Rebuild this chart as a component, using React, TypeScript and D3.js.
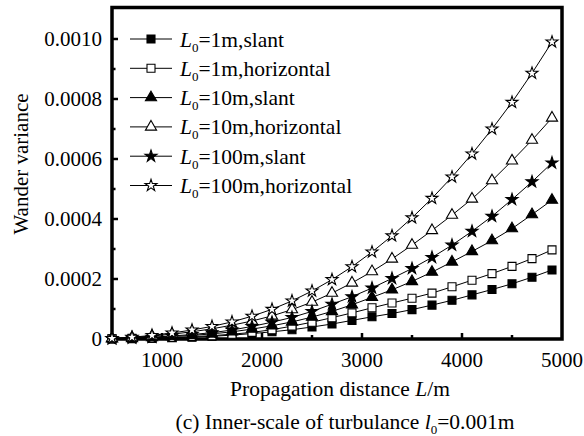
import React from "react";
import * as d3 from "d3";

// Propagation distance (m)
const distance = [500, 700, 900, 1100, 1300, 1500, 1700, 1900, 2100, 2300, 2500, 2700, 2900, 3100, 3300, 3500, 3700, 3900, 4100, 4300, 4500, 4700, 4900];

// Wander variance for each outer scale / path type
const slant1 = [0.0000003, 0.000001, 0.000002, 0.000004, 0.000006, 0.000009, 0.000013, 0.000018, 0.000024, 0.000031, 0.00004, 0.00005, 0.000062, 0.000074, 0.000085, 0.000098, 0.000113, 0.000129, 0.000147, 0.000165, 0.000184, 0.000206, 0.00023];
const horiz1 = [0.0000005, 0.000002, 0.000003, 0.000005, 0.000008, 0.000011, 0.000016, 0.000022, 0.000031, 0.000043, 0.000056, 0.000071, 0.000087, 0.000104, 0.00012, 0.000136, 0.000153, 0.000174, 0.000196, 0.000218, 0.000242, 0.000268, 0.000297];
const slant10 = [0.000001, 0.000002, 0.000005, 0.000008, 0.000012, 0.000017, 0.000024, 0.000033, 0.000044, 0.000057, 0.000073, 0.000092, 0.000114, 0.000139, 0.000164, 0.000192, 0.000223, 0.000257, 0.000292, 0.000328, 0.000368, 0.000415, 0.000463];
const horiz10 = [0.000002, 0.000005, 0.00001, 0.000016, 0.000024, 0.000034, 0.000046, 0.00006, 0.000077, 0.000098, 0.000123, 0.000153, 0.000187, 0.000225, 0.000267, 0.000313, 0.000362, 0.000413, 0.000467, 0.000528, 0.000594, 0.000663, 0.000737];
const slant100 = [0.000001, 0.000003, 0.000006, 0.00001, 0.000015, 0.000021, 0.00003, 0.000042, 0.000056, 0.000072, 0.000092, 0.000116, 0.000141, 0.00017, 0.000202, 0.000235, 0.000272, 0.000313, 0.000359, 0.000409, 0.000465, 0.000524, 0.000587];
const horiz100 = [0.000002, 0.000006, 0.000012, 0.00002, 0.00003, 0.000042, 0.000057, 0.000076, 0.000099, 0.000127, 0.00016, 0.000198, 0.000241, 0.00029, 0.000344, 0.000404, 0.000469, 0.00054, 0.000617, 0.0007, 0.000789, 0.000886, 0.00099];

const outerScales = ["1m", "1m", "10m", "10m", "100m", "100m"];
const pathTypes = ["slant", "horizontal", "slant", "horizontal", "slant", "horizontal"];

const xTicks = [1000, 2000, 3000, 4000, 5000];
const xMinorTicks = [1000, 1500, 2000, 2500, 3000, 3500, 4000, 4500];
const yTicks = [0, 0.0002, 0.0004, 0.0006, 0.0008, 0.001];
const yMinorTicks = [0.0001, 0.0003, 0.0005, 0.0007, 0.0009];

const textStyle = { fontFamily: '"Liberation Serif", "Times New Roman", Times, serif' };

const series = [
  { values: slant1, symbol: d3.symbolSquare, size: 64, filled: true },
  { values: horiz1, symbol: d3.symbolSquare, size: 64, filled: false },
  { values: slant10, symbol: d3.symbolTriangle, size: 54, filled: true },
  { values: horiz10, symbol: d3.symbolTriangle, size: 54, filled: false },
  { values: slant100, symbol: d3.symbolStar, size: 44, filled: true },
  { values: horiz100, symbol: d3.symbolStar, size: 44, filled: false },
];

export default function App() {
  const x = d3.scaleLinear().domain([500, 5000]).range([112, 562]);
  const y = d3.scaleLinear().domain([0, 0.001105]).range([339, 7.5]);
  const line = d3
    .line<[number, number]>()
    .x((d) => x(d[0]))
    .y((d) => y(d[1]));

  const [x0, x1] = x.range();
  const [yb, yt] = y.range();

  return (
    <svg
      width={584}
      height={436}
      style={{ position: "absolute", left: 0, top: 0, background: "#fff", ...textStyle }}
    >
      <rect x={0} y={0} width={584} height={436} fill="#fff" />

      {/* series lines */}
      {series.map((s, i) => (
        <path
          key={"l" + i}
          d={line(distance.map((d, j) => [d, s.values[j]]) as [number, number][]) || ""}
          fill="none"
          stroke="#000"
          strokeWidth={1}
        />
      ))}

      {/* ticks */}
      {xMinorTicks.map((t) => (
        <line key={"xm" + t} x1={x(t)} x2={x(t)} y1={yb} y2={yb - (t % 1000 === 0 ? 6 : 4)} stroke="#000" strokeWidth={2.5} />
      ))}
      {yTicks.concat(yMinorTicks).map((t) => (
        <line
          key={"ym" + t}
          x1={x0}
          x2={x0 + (yTicks.includes(t) ? 6 : 3.5)}
          y1={y(t)}
          y2={y(t)}
          stroke="#000"
          strokeWidth={2.5}
        />
      ))}

      {/* frame */}
      <rect x={x0} y={yt} width={x1 - x0} height={yb - yt} fill="none" stroke="#000" strokeWidth={3.5} />

      {/* markers */}
      {series.map((s, i) => {
        const p = d3.symbol(s.symbol, s.size)() || "";
        return (
          <g key={"m" + i}>
            {distance.map((d, j) => (
              <path
                key={j}
                d={p}
                transform={`translate(${x(d)},${y(s.values[j])})`}
                fill={s.filled ? "#000" : "#fff"}
                stroke="#000"
                strokeWidth={1.1}
              />
            ))}
          </g>
        );
      })}

      {/* tick labels */}
      {xTicks.map((t) => (
        <text key={"xt" + t} x={x(t)} y={367} fontSize={21} textAnchor="middle" style={textStyle}>
          {t}
        </text>
      ))}
      {yTicks.map((t) => (
        <text key={"yt" + t} x={102} y={y(t)} dy="0.35em" fontSize={21} textAnchor="end" style={textStyle}>
          {t === 0 ? "0" : t.toFixed(4)}
        </text>
      ))}

      {/* axis titles */}
      <text x={340} y={396} fontSize={21.5} textAnchor="middle" style={textStyle}>
        Propagation distance <tspan fontStyle="italic">L</tspan>/m
      </text>
      <text transform="translate(28,164) rotate(-90)" fontSize={21} textAnchor="middle" style={textStyle}>
        Wander variance
      </text>
      <text x={345} y={429} fontSize={21.5} textAnchor="middle" style={textStyle}>
        (c) Inner-scale of turbulance <tspan fontStyle="italic">l</tspan>
        <tspan fontSize={13} dy={5}>0</tspan>
        <tspan dy={-5}>=0.001m</tspan>
      </text>

      {/* legend */}
      {series.map((s, i) => {
        const ly = 39 + i * 29.3;
        const p = d3.symbol(s.symbol, s.size)() || "";
        return (
          <g key={"lg" + i}>
            <line x1={130} x2={172} y1={ly} y2={ly} stroke="#000" strokeWidth={1} />
            <path d={p} transform={`translate(151,${ly})`} fill={s.filled ? "#000" : "#fff"} stroke="#000" strokeWidth={1.1} />
            <text x={180} y={ly} dy="0.35em" fontSize={21.5} style={textStyle}>
              <tspan fontStyle="italic">L</tspan>
              <tspan fontSize={13} dy={5}>0</tspan>
              <tspan dy={-5}>{`=${outerScales[i]},${pathTypes[i]}`}</tspan>
            </text>
          </g>
        );
      })}
    </svg>
  );
}
